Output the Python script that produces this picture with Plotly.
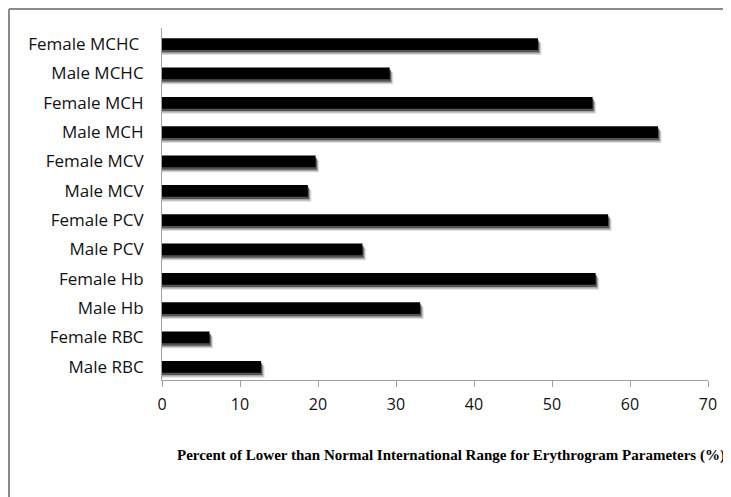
import plotly.graph_objects as go

categories = ["Male RBC", "Female RBC", "Male Hb", "Female Hb", "Male PCV", "Female PCV",
              "Male MCV", "Female MCV", "Male MCH", "Female MCH", "Male MCHC", "Female MCHC "]
values = [12.7, 6.1, 33.1, 55.6, 25.7, 57.2, 18.7, 19.7, 63.6, 55.2, 29.2, 48.2]
x_ticks = [0, 10, 20, 30, 40, 50, 60, 70]
axis_title = "Percent of Lower than Normal International Range for Erythrogram Parameters (%)"

OFF = 8  # page body margin
W, H = 731 - OFF, 497 - OFF
L, T = 162 - OFF, 28 - OFF
R = W - (708 - OFF)
B = H - (380 - OFF)
pw, ph = W - L - R, H - T - B

def px(xs):  # screen x -> paper
    return (xs - OFF - L) / pw

def py(ys):  # screen y -> paper
    return (H - B - (ys - OFF)) / ph

fig = go.Figure()
# soft drop shadow
for op, dx, dy in [(0.15, 0.45, 0.17), (0.3, 0.3, 0.13), (0.65, 0.15, 0.08)]:
    fig.add_trace(go.Bar(
        y=categories, x=[v + dx for v in values], orientation="h",
        width=0.40, offset=-0.20 - dy,
        marker=dict(color=f"rgba(40,40,40,{op})", line=dict(width=0)),
        hoverinfo="skip", showlegend=False))
fig.add_trace(go.Bar(
    y=categories, x=values, orientation="h",
    width=0.40, offset=-0.20,
    marker=dict(color="#000000", line=dict(width=0)),
    showlegend=False))

fig.update_layout(
    width=W, height=H,
    margin=dict(l=L, r=R, t=T, b=B),
    barmode="overlay",
    plot_bgcolor="white", paper_bgcolor="white",
    font=dict(family="Open Sans, Noto Sans, sans-serif", size=15, color="#111111"),
    xaxis=dict(range=[0, 70], tickvals=x_ticks, showgrid=False, zeroline=False,
               showline=True, linecolor="#a0a0a0", linewidth=1,
               ticks="outside", ticklen=6, tickcolor="#a0a0a0",
               tickfont=dict(size=16), ticklabelstandoff=4),
    yaxis=dict(categoryorder="array", categoryarray=categories,
               range=[-0.45, 11.55], showgrid=False, zeroline=False,
               showline=True, linecolor="#a0a0a0", linewidth=1,
               ticks="", tickfont=dict(size=17), ticklabelstandoff=14),
    shapes=[
        dict(type="line", xref="paper", yref="paper", x0=px(9), x1=px(745), y0=py(9), y1=py(9),
             line=dict(color="#8a8a8a", width=2)),
        dict(type="line", xref="paper", yref="paper", x0=px(9), x1=px(9), y0=py(9), y1=py(510),
             line=dict(color="#8a8a8a", width=2)),
    ],
    annotations=[dict(text=f"<b>{axis_title}</b>", xref="paper", yref="paper",
                      x=px(451), y=py(455), showarrow=False, xanchor="center", yanchor="middle",
                      font=dict(family="Liberation Serif, serif", size=15, color="#000000"))],
)

fig.write_html("out.html")
